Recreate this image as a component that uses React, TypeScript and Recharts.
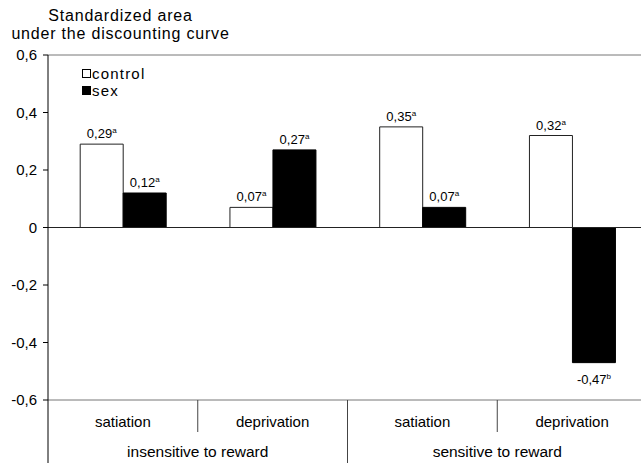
import React from 'react';
import { BarChart, Bar, XAxis, YAxis, ReferenceLine, LabelList } from 'recharts';

const conditions = ['satiation', 'deprivation', 'satiation', 'deprivation'];
const groups = ['insensitive to reward', 'sensitive to reward'];
const controlValues = [0.29, 0.07, 0.35, 0.32];
const sexValues = [0.12, 0.27, 0.07, -0.47];
const controlMarks = ['a', 'a', 'a', 'a'];
const sexMarks = ['a', 'a', 'a', 'b'];
const yTicks = [-0.6, -0.4, -0.2, 0, 0.2, 0.4, 0.6];
const seriesNames = ['control', 'sex'];
const titleLines = ['Standardized area', 'under the discounting curve'];

const FONT = '"Liberation Sans", Arial, Helvetica, sans-serif';

const data = conditions.map((c, i) => ({
  key: `c${i}`,
  condition: c,
  control: controlValues[i],
  sex: sexValues[i],
}));

const fmt = (v: number) => (v === 0 ? '0' : v.toFixed(2).replace('.', ','));
const fmtTick = (v: number) => (v === 0 ? '0' : v.toFixed(1).replace('.', ','));

const valueLabel = (marks: string[]) => (props: any) => {
  const { x, y, width, height, value, index } = props;
  const top = Math.min(Number(y), Number(y) + Number(height));
  const bottom = Math.max(Number(y), Number(y) + Number(height));
  const cx = Number(x) + Number(width) / 2;
  const ty = value < 0 ? bottom + 21 : top - 6;
  return (
    <text x={cx} y={ty} textAnchor="middle" fontSize={13} fill="#000" fontFamily={FONT}>
      {fmt(value)}
      <tspan dy={-5} fontSize={8}>{marks[index]}</tspan>
    </text>
  );
};

const XTick = (props: any) => {
  const { x, y, payload, index } = props;
  const half = payload?.offset || 74.8;
  const left = x - half;
  const i = payload?.index ?? index;
  return (
    <g>
      <line
        x1={left}
        y1={y}
        x2={left}
        y2={y + (i % 2 === 0 ? 63 : 32)}
        stroke={i === 0 ? '#000' : '#444'}
        strokeWidth={1}
      />
      <text x={x} y={y + 27} textAnchor="middle" fontSize={15} fill="#000" fontFamily={FONT}>
        {conditions[i]}
      </text>
      {i % 2 === 1 && (
        <text x={left} y={y + 57} textAnchor="middle" fontSize={15.5} fill="#000" fontFamily={FONT}>
          {groups[(i - 1) / 2]}
        </text>
      )}
    </g>
  );
};

export default function App() {
  return (
    <div
      style={{
        position: 'absolute',
        left: 0,
        top: 0,
        width: 641,
        height: 463,
        overflow: 'hidden',
        background: '#fff',
        fontFamily: FONT,
      }}
    >
      <BarChart
        width={660}
        height={463}
        data={data}
        margin={{ top: 55, right: 13, bottom: 0, left: 0 }}
        barCategoryGap="21.5%"
        barGap={0}
      >
        <XAxis
          dataKey="key"
          height={63}
          interval={0}
          tickLine={false}
          axisLine={false}
          tickSize={0}
          tickMargin={0}
          tick={<XTick />}
        />
        <YAxis
          width={48}
          domain={[-0.6, 0.6]}
          ticks={yTicks}
          tickFormatter={fmtTick}
          tick={{ fontSize: 15, fill: '#000', fontFamily: FONT }}
          tickSize={5}
          tickMargin={6}
          axisLine={{ stroke: '#000' }}
          tickLine={{ stroke: '#000' }}
        />
        <ReferenceLine y={0.6} stroke="#777" />
        <ReferenceLine y={-0.6} stroke="#777" />
        <Bar dataKey="control" name={seriesNames[0]} fill="#fff" stroke="#222" strokeWidth={1} isAnimationActive={false}>
          <LabelList dataKey="control" content={valueLabel(controlMarks)} />
        </Bar>
        <Bar dataKey="sex" name={seriesNames[1]} fill="#000" stroke="#000" strokeWidth={1} isAnimationActive={false}>
          <LabelList dataKey="sex" content={valueLabel(sexMarks)} />
        </Bar>
        <ReferenceLine y={0} stroke="#222" />
      </BarChart>

      <div
        style={{
          position: 'absolute',
          left: 0,
          top: 6.5,
          width: 241,
          textAlign: 'center',
          fontSize: 16,
          letterSpacing: 0.8,
          lineHeight: '18px',
          color: '#000',
        }}
      >
        {titleLines.map((t) => (
          <div key={t}>{t}</div>
        ))}
      </div>

      <div
        style={{
          position: 'absolute',
          left: 82,
          top: 65,
          fontSize: 15,
          letterSpacing: 1.2,
          lineHeight: '17px',
          color: '#000',
        }}
      >
        {seriesNames.map((n, i) => (
          <div key={n} style={{ display: 'flex', alignItems: 'center', whiteSpace: 'nowrap' }}>
            <span
              style={{
                display: 'inline-block',
                width: 9,
                height: 9,
                boxSizing: 'border-box',
                border: '1px solid #000',
                background: i === 0 ? '#fff' : '#000',
                marginRight: 1,
              }}
            />
            <span>{n}</span>
          </div>
        ))}
      </div>
    </div>
  );
}
